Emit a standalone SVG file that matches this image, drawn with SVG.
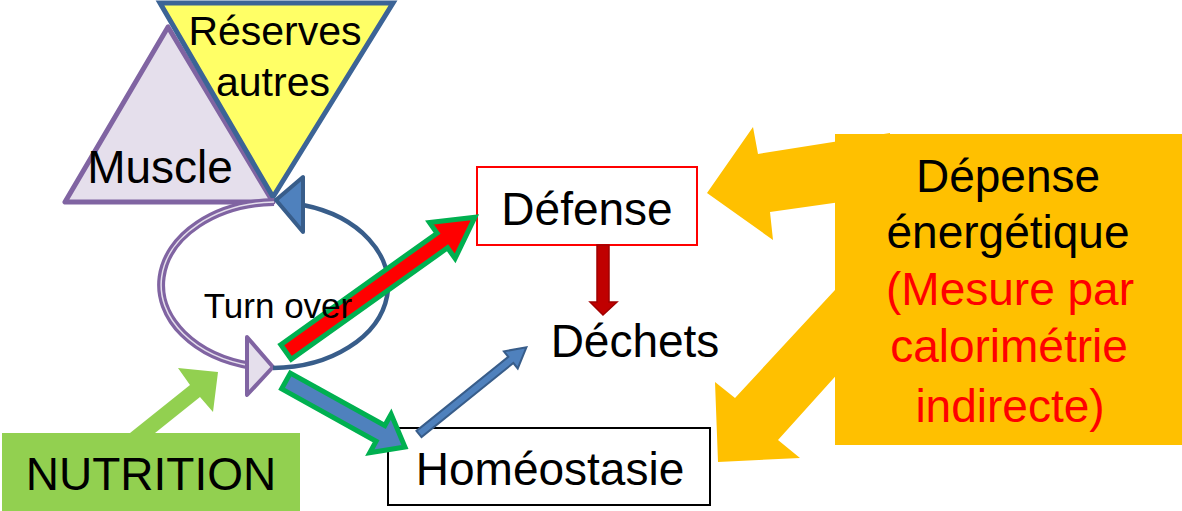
<svg xmlns="http://www.w3.org/2000/svg" width="1182" height="511" viewBox="0 0 1182 511">
<style>
.t{font-family:"Liberation Sans",Arial,sans-serif;text-anchor:middle;fill:#000}
.big{font-size:46px}
.red{fill:#ff0000}
.org{fill:#ffc000}
.grn{stroke:#00b050;stroke-width:5;stroke-linejoin:miter}
</style>
<rect width="1182" height="511" fill="#fff"/>
<g id="muscle">
<polygon points="168,27 65,202 273,202" fill="#e5dfec" stroke="#8064a2" stroke-width="5" stroke-linejoin="round"/>
<text class="t big" x="160" y="183">Muscle</text>
</g>
<g id="reserves">
<polygon points="160,3 393,3 273,197" fill="#ffff66" stroke="#3c6496" stroke-width="5" stroke-linejoin="miter"/>
<text class="t" font-size="41" x="275" y="45">Réserves</text>
<text class="t" font-size="41" x="273" y="96">autres</text>
</g>
<g id="turnover">
<path d="M274 202 A116 83 0 0 0 252 366" fill="none" stroke="#8064a2" stroke-width="8"/>
<path d="M274 202 A116 83 0 0 0 252 366" fill="none" stroke="#e5dfec" stroke-width="1.5"/>
<polygon points="247,337 273,367 247,395" fill="#e5dfec" stroke="#8064a2" stroke-width="4" stroke-linejoin="round"/>
<path d="M273 368 A116 83 0 0 0 303 205" fill="none" stroke="#385d8a" stroke-width="4.5"/>
<polygon points="276,200 303,177 303,232" fill="#4f81bd" stroke="#385d8a" stroke-width="4" stroke-linejoin="round"/>
</g>
<g id="defense">
<rect x="477" y="167" width="220" height="78" fill="#fff" stroke="#ff0000" stroke-width="2"/>
<text class="t big" x="587" y="225">Défense</text>
</g>
<g id="dechets">
<text class="t big" x="635" y="357">Déchets</text>
</g>
<g id="homeostasie">
<rect x="388" y="428" width="322" height="77" fill="#fff" stroke="#000" stroke-width="2"/>
<text class="t big" x="550" y="485">Homéostasie</text>
</g>
<g id="nutrition">
<rect x="2" y="433" width="298" height="78" fill="#92d050"/>
<text class="t big" x="151" y="490">NUTRITION</text>
</g>
<g id="depense">
<rect x="835" y="134" width="347" height="311" class="org"/>
<text class="t big" x="1008" y="192">Dépense</text>
<text class="t big" x="1008" y="248">énergétique</text>
<text class="t big red" x="1010" y="305">(Mesure par</text>
<text class="t big red" x="1009" y="362">calorimétrie</text>
<text class="t big red" x="1010" y="422">indirecte)</text>
</g>
<g id="connectors">
<polygon points="130,433 190,385 178,368 218,372 213,412 200,397 155,433" fill="#92d050"/>
<polygon points="890,133 758,154 753,127 707,193 773,240 770,212 890,195" class="org"/>
<polygon points="860,263 735,398 715,382 718,462 800,458 778,440 860,349" class="org"/>
<g transform="translate(286,352) rotate(-35.5)">
<polygon points="0,-9 192,-9 192,-22 232,0 192,22 192,9 0,9" fill="#ff0000" class="grn"/>
</g>
<g transform="translate(286,381) rotate(29)">
<polygon points="0,-9 108,-9 108,-22 136,0 108,22 108,9 0,9" fill="#4f81bd" class="grn"/>
</g>
<g transform="translate(419,434) rotate(-38.9)">
<polygon points="0,-4 118,-4 118,-11 138,0 118,11 118,4 0,4" fill="#4f81bd" stroke="#385d8a" stroke-width="2"/>
</g>
<polygon points="597,245 609,245 609,302 617,302 603,315 590,302 597,302" fill="#c00000" stroke="#a00000" stroke-width="1.5"/>
</g>
<g id="turnover-label">
<text class="t" font-size="35" x="278" y="318">Turn over</text>
</g>
</svg>
